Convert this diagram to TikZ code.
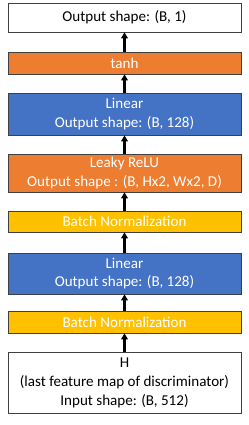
\documentclass[tikz,border=0pt]{standalone}
\usepackage{fontspec}
\setmainfont{Carlito}
\usetikzlibrary{arrows.meta,positioning}
\definecolor{NetOrange}{HTML}{ED7D31}
\definecolor{NetBlue}{HTML}{4472C4}
\definecolor{NetYellow}{HTML}{FFC000}
\definecolor{NetEdge}{HTML}{404040}

\begin{document}
\begin{tikzpicture}[x=0.75pt, y=-0.75pt,
  layer/.style={draw=NetEdge, line width=0.6pt, minimum width=174.75pt, inner sep=0pt,
    align=center, font=\fontsize{11.3}{14.2}\selectfont},
  plain/.style={layer, fill=white, text=black},
  act/.style={layer, fill=NetOrange, text=white},
  lin/.style={layer, fill=NetBlue, text=white},
  norm/.style={layer, fill=NetYellow, text=white},
  flow/.style={-{Triangle[length=4.5pt, width=5pt]}, line width=1.6pt, black}]
% bounding box of the reference
\useasboundingbox (0,0) rectangle (249,425);

% Layers from top to bottom
\node[plain, minimum height=21.75pt] (out) at (124.5, 17.5) {Output shape: (B, 1)};
\node[act, minimum height=16.5pt] (tanh) at (124.5, 63) {tanh};
\node[lin, minimum height=31.5pt] (lin1) at (124.5, 114) {Linear\\Output shape: (B, 128)};
\node[act, minimum height=28.5pt] (lrelu) at (124.5, 173) {Leaky ReLU\\Output shape : (B, Hx2, Wx2, D)};
\node[norm, minimum height=15.75pt] (bn1) at (124.5, 221.5) {Batch Normalization};
\node[lin, minimum height=30.75pt] (lin2) at (124.5, 273.5) {Linear\\Output shape: (B, 128)};
\node[norm, minimum height=16.5pt] (bn2) at (124.5, 322) {Batch Normalization};
\node[plain, minimum height=45.75pt] (inp) at (124.5, 382.5) {H\\(last feature map of discriminator)\\Input shape: (B, 512)};

% Arrows
\draw[flow] (inp) -- (bn2);
\draw[flow] (bn2) -- (lin2);
\draw[flow] (lin2) -- (bn1);
\draw[flow] (bn1) -- (lrelu);
\draw[flow] (lrelu) -- (lin1);
\draw[flow] (lin1) -- (tanh);
\draw[flow] (tanh) -- (out);
\end{tikzpicture}
\end{document}
